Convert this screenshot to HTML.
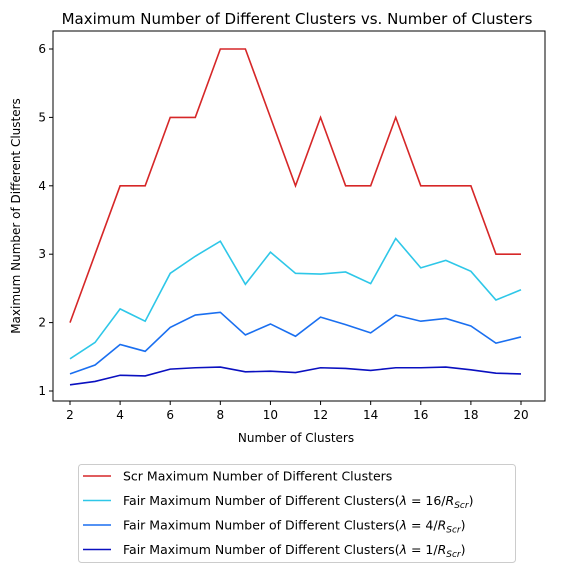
<!DOCTYPE html>
<html><head><meta charset="utf-8"><style>
body{margin:0;background:#fff;font-family:"Liberation Sans","DejaVu Sans",sans-serif;}
</style></head><body>
<svg width="567" height="572" xmlns="http://www.w3.org/2000/svg" font-family="DejaVu Sans, Liberation Sans, sans-serif">
<text x="297" y="24" font-size="15" text-anchor="middle">Maximum Number of Different Clusters vs. Number of Clusters</text>
<g id="plot"></g>
<rect x="53" y="31" width="492" height="370" fill="none" stroke="#000" stroke-width="1"/>
<text x="296" y="442" font-size="12" text-anchor="middle">Number of Clusters</text>
<text transform="translate(20,216) rotate(-90)" font-size="12" text-anchor="middle">Maximum Number of Different Clusters</text>
<g>
<rect x="78.5" y="464.5" width="437" height="98" rx="3" fill="#fff" stroke="#ccc"/>
<g id="legend-items"></g>
</g>
</svg>
<script>
const categories=[2,3,4,5,6,7,8,9,10,11,12,13,14,15,16,17,18,19,20];
const scrValues=[2,3,4,4,5,5,6,6,5,4,5,4,4,5,4,4,4,3,3];
const fair16Values=[1.47,1.71,2.20,2.02,2.72,2.97,3.19,2.56,3.03,2.72,2.71,2.74,2.57,3.23,2.80,2.91,2.75,2.33,2.48];
const fair4Values=[1.25,1.38,1.68,1.58,1.93,2.11,2.15,1.82,1.98,1.80,2.08,1.97,1.85,2.11,2.02,2.06,1.95,1.70,1.79];
const fair1Values=[1.09,1.14,1.23,1.22,1.32,1.34,1.35,1.28,1.29,1.27,1.34,1.33,1.30,1.34,1.34,1.35,1.31,1.26,1.25];
const xTicks=[2,4,6,8,10,12,14,16,18,20];
const yTicks=[1,2,3,4,5,6];
const lambdas=["16","4","1"];
const NS="http://www.w3.org/2000/svg";
const xs=v=>70+(v-2)*(521-70)/18;
const ys=v=>391-(v-1)*(391-49)/5;
const plot=document.getElementById('plot');
function mk(t,a,p){const e=document.createElementNS(NS,t);for(const k in a)e.setAttribute(k,a[k]);p.appendChild(e);return e;}
xTicks.forEach(t=>{
 const l=mk('line',{x1:xs(t),x2:xs(t),y1:401,y2:405,stroke:'#000'},plot);
 
 
 const tx=mk('text',{x:xs(t),y:419,'font-size':12,'text-anchor':'middle'},plot);tx.textContent=t;
 
 
});
yTicks.forEach(t=>{
 const l=mk('line',{x1:49,x2:53,y1:ys(t),y2:ys(t),stroke:'#000'},plot);
 
 
 const tx=mk('text',{x:46,y:ys(t)+4,'font-size':12,'text-anchor':'end'},plot);tx.textContent=t;
 
 
});
const series=[[scrValues,'#d62728','scr-line'],[fair16Values,'#2ec7e8','fair-16-line'],[fair4Values,'#1a6ff0','fair-4-line'],[fair1Values,'#0a10c0','fair-1-line']];
series.forEach(([vals,c,n])=>{
 const p=mk('polyline',{points:vals.map((v,i)=>xs(categories[i])+','+ys(v)).join(' '),fill:'none',stroke:c,'stroke-width':1.6},plot);
 
 
});
const li=document.getElementById('legend-items');
series.forEach(([v,c,n],i)=>{
 const y=476+i*24.5;
 mk('line',{x1:83,x2:111,y1:y,y2:y,stroke:c,'stroke-width':1.6},li);
 const t=mk('text',{x:123,y:y+4.5,'font-size':12.5},li);
 
 
 if(i===0){t.textContent='Scr Maximum Number of Different Clusters';return;}
 t.textContent='Fair Maximum Number of Different Clusters(';
 const a=mk('tspan',{'font-style':'italic'},t);a.textContent='λ';
 const b=mk('tspan',{},t);b.textContent=' = '+lambdas[i-1]+'/';
 const r=mk('tspan',{'font-style':'italic'},t);r.textContent='R';
 const s=mk('tspan',{'font-size':9,dy:3,'font-style':'italic'},t);s.textContent='Scr';
 const s2=mk('tspan',{dy:-3},t);s2.textContent=')';
});
</script>
</body></html>
